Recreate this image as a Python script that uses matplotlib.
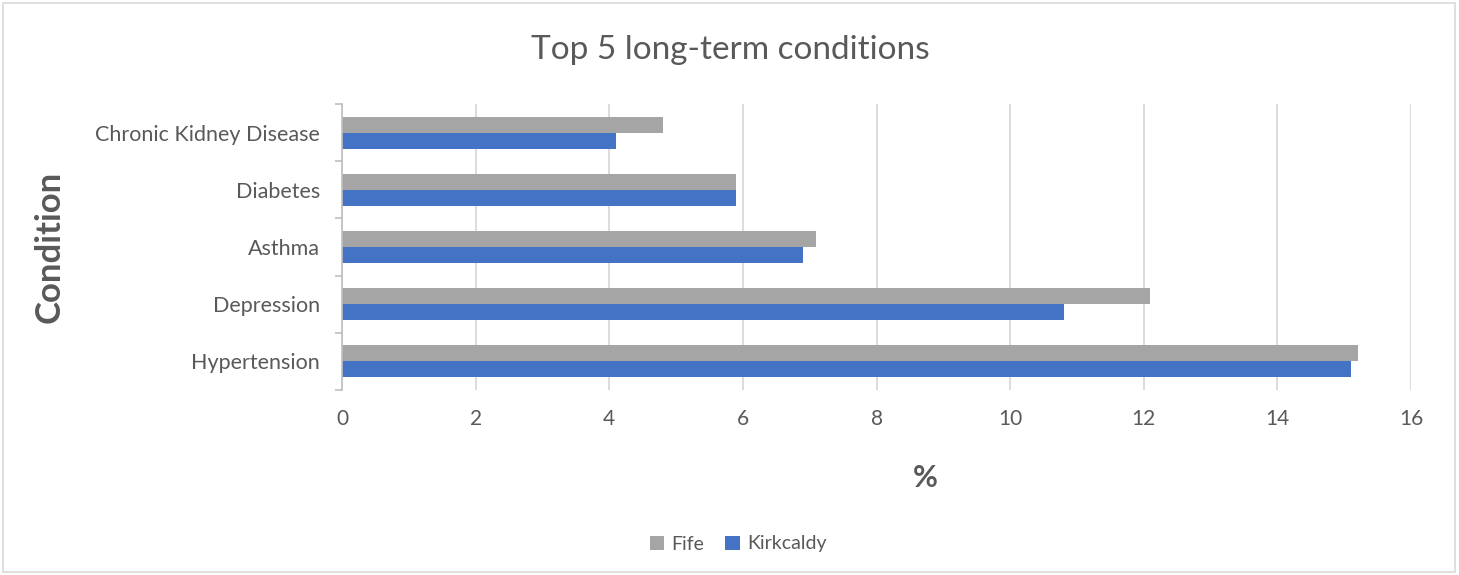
import numpy as np
import matplotlib
matplotlib.use("Agg")
import matplotlib.pyplot as plt
from matplotlib.patches import Rectangle

plt.rcParams['font.family'] = ['Lato', 'DejaVu Sans']

conditions = ["Hypertension", "Depression", "Asthma", "Diabetes", "Chronic Kidney Disease"]
fife = [15.2, 12.1, 7.1, 5.9, 4.8]
kirkcaldy = [15.1, 10.8, 6.9, 5.9, 4.1]

text_col = '#595959'
grey = '#A5A5A5'
blue = '#4472C4'

fig = plt.figure(figsize=(14.59, 5.75), dpi=100)
ax = fig.add_axes([342 / 1459, 1 - 390 / 575, (1411 - 342) / 1459, (390 - 104) / 575])

y = np.arange(len(conditions))
h = 0.28
ax.barh(y + h / 2, fife, height=h, color=grey, label='Fife', zorder=3)
ax.barh(y - h / 2, kirkcaldy, height=h, color=blue, label='Kirkcaldy', zorder=3)

ax.set_xlim(0, 16)
ax.set_ylim(-0.5, len(conditions) - 0.5)
ax.set_xticks(np.arange(0, 17, 2))
ax.set_yticks(y)
ax.set_yticklabels(conditions)
ax.set_yticks(np.arange(-0.5, len(conditions), 1), minor=True)

ax.grid(axis='x', color='#D9D9D9', linewidth=1.3, zorder=0)
for s in ['top', 'right', 'bottom']:
    ax.spines[s].set_visible(False)
ax.spines['left'].set_color('#BFBFBF')
ax.spines['left'].set_linewidth(1.2)
ax.spines['left'].set_zorder(4)

ax.tick_params(axis='y', which='major', length=0, pad=16, labelsize=15.5, labelcolor=text_col)
ax.tick_params(axis='y', which='minor', length=5, color='#BFBFBF', width=1.2, direction='out')
ax.tick_params(axis='x', length=0, pad=14, labelsize=15, labelcolor=text_col)

ax.set_xlabel('%', fontsize=22, fontweight='bold', color=text_col)
ax.xaxis.set_label_coords((925 - 342) / (1411 - 342), -(478 - 390) / (390 - 104))
ax.xaxis.label.set_va('center')
ax.set_ylabel('Condition', fontsize=25, fontweight='bold', color=text_col)
ax.yaxis.set_label_coords(-(342 - 50) / (1411 - 342), 0.5)
ax.yaxis.label.set_va('center')

fig.text(730 / 1459, 1 - 50 / 575, 'Top 5 long-term conditions', fontsize=24,
         color=text_col, ha='center', va='center')

leg = fig.legend(loc='center', bbox_to_anchor=(738 / 1459, 1 - 544 / 575), ncol=2,
                 frameon=False, fontsize=14, handlelength=0.75, handleheight=0.75,
                 handletextpad=0.35, columnspacing=1.1)
for t in leg.get_texts():
    t.set_color(text_col)

fig.patches.append(Rectangle((3 / 1459, 3 / 575), 1452 / 1459, 569 / 575,
                             transform=fig.transFigure, fill=False,
                             edgecolor='#D9D9D9', linewidth=1.2))

fig.savefig('out.png', dpi=100)
